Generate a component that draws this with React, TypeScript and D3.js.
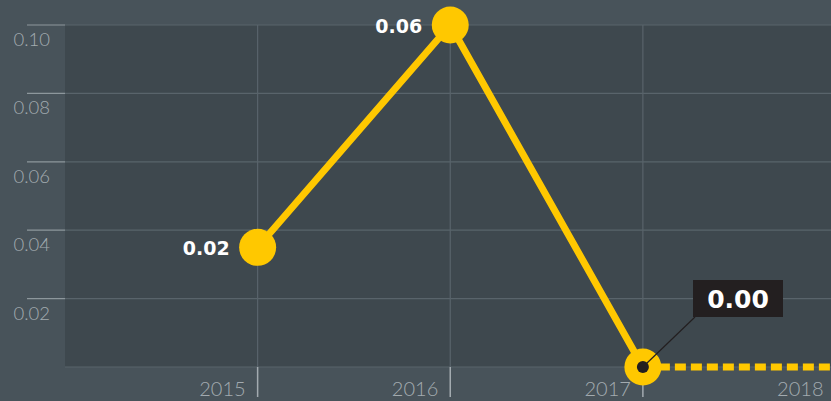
import React from "react";
import * as d3 from "d3";

const years = [2015, 2016, 2017, 2018];
const values = [0.035, 0.1, 0];
const valueLabels = ["0.02", "0.06", "0.00"];
const projected = [0, 0];
const yTicks = [0.02, 0.04, 0.06, 0.08, 0.1];
const yTickLabels = ["0.02", "0.04", "0.06", "0.08", "0.10"];

const W = 831;
const H = 401;
const plotLeft = 65;
const plotTop = 25;
const plotBottom = 367;

export default function App() {
  const x = d3.scaleLinear().domain([2014, 2018]).range([plotLeft, 835.5]);
  const y = d3.scaleLinear().domain([0, 0.1]).range([plotBottom, plotTop]);
  const line = d3
    .line<number>()
    .x((_, i) => x(years[i]))
    .y((d) => y(d));
  const dashLine = d3
    .line<number>()
    .x((_, i) => x(years[2 + i]))
    .y((d) => y(d));

  const lastI = values.length - 1;
  const cx = x(years[lastI]);
  const cy = y(values[lastI]);

  return (
    <svg
      width={W}
      height={H}
      style={{ position: "absolute", left: 0, top: 0, display: "block" }}
    >
      <rect x={0} y={0} width={W} height={H} fill="#48535a" />
      <rect
        x={plotLeft}
        y={plotTop}
        width={W - plotLeft}
        height={plotBottom - plotTop}
        fill="#3e484e"
      />
      {/* horizontal gridlines */}
      {[0, ...yTicks].map((t) => (
        <line
          key={"g" + t}
          x1={plotLeft}
          x2={W}
          y1={y(t)}
          y2={y(t)}
          stroke="#59646b"
          strokeWidth={1.2}
        />
      ))}
      {/* y ticks */}
      {yTicks.map((t, i) => (
        <g key={"yt" + t}>
          <line
            x1={27}
            x2={plotLeft}
            y1={y(t)}
            y2={y(t)}
            stroke="#8d979c"
            strokeWidth={1.2}
          />
          <text
            x={50}
            y={y(t) + 21}
            textAnchor="end"
            fontFamily="Lato"
            fontWeight={300}
            fontSize={18.5}
            fill="#a3abb0"
          >
            {yTickLabels[i]}
          </text>
        </g>
      ))}
      {/* vertical gridlines */}
      {years.slice(0, 3).map((yr) => (
        <line
          key={"v" + yr}
          x1={x(yr)}
          x2={x(yr)}
          y1={plotTop}
          y2={plotBottom}
          stroke="#59646b"
          strokeWidth={1.2}
        />
      ))}
      {/* x ticks */}
      {years.map((yr) => (
        <g key={"xt" + yr}>
          <line
            x1={x(yr)}
            x2={x(yr)}
            y1={plotBottom}
            y2={397}
            stroke="#a3abb0"
            strokeWidth={1.5}
          />
          <text
            x={x(yr) - 12}
            y={396}
            textAnchor="end"
            fontFamily="Lato"
            fontWeight={300}
            fontSize={20}
            fill="#a3abb0"
          >
            {yr}
          </text>
        </g>
      ))}
      {/* dashed projection */}
      <path
        d={dashLine(projected) || ""}
        fill="none"
        stroke="#ffc800"
        strokeWidth={7}
        strokeDasharray="11 5"
      />
      {/* main line */}
      <path
        d={line(values) || ""}
        fill="none"
        stroke="#ffc800"
        strokeWidth={7}
        strokeLinejoin="round"
      />
      {values.map((v, i) => (
        <circle key={"c" + i} cx={x(years[i])} cy={y(v)} r={18.5} fill="#ffc800" />
      ))}
      {values.slice(0, lastI).map((v, i) => (
        <text
          key={"l" + i}
          x={x(years[i]) - 28}
          y={y(v) + 8}
          textAnchor="end"
          fontFamily="DejaVu Sans"
          fontWeight="bold"
          fontSize={19}
          fill="#ffffff"
        >
          {valueLabels[i]}
        </text>
      ))}
      {/* callout for last point */}
      <line x1={cx} y1={cy} x2={695} y2={317} stroke="#231f20" strokeWidth={1.2} />
      <circle cx={cx} cy={cy} r={6} fill="#231f20" />
      <rect x={693} y={280} width={90} height={37} fill="#231f20" />
      <text
        x={738}
        y={307.5}
        textAnchor="middle"
        fontFamily="DejaVu Sans"
        fontWeight="bold"
        fontSize={25}
        fill="#ffffff"
      >
        {valueLabels[lastI]}
      </text>
    </svg>
  );
}
